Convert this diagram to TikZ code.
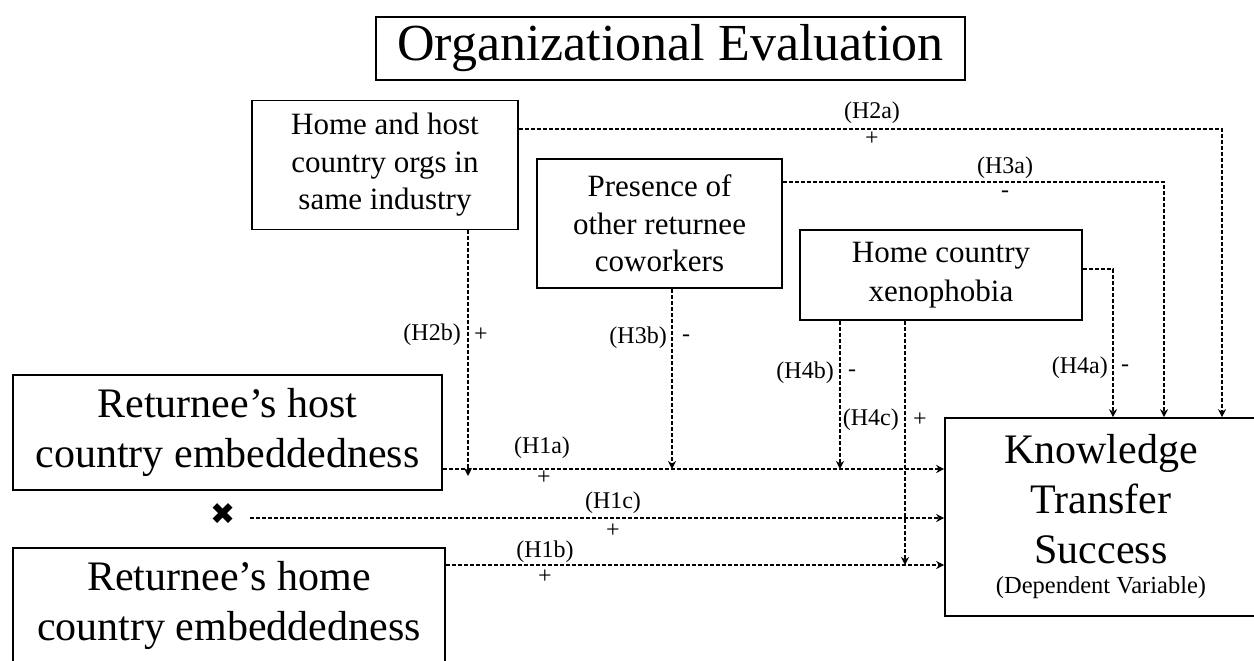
\documentclass[tikz,border=0pt]{standalone}
\usepackage{fontspec}
\setmainfont{Liberation Serif}
\newfontfamily\symfont{DejaVu Sans}
\usetikzlibrary{arrows.meta,calc}

\tikzset{
  box/.style={draw, line width=1.6pt, align=center, inner sep=0pt},
  dep/.style={dashed, dash pattern=on 4pt off 2pt, line width=1.2pt, -{Stealth[length=8pt,width=8pt,inset=2.5pt]}},
  lbl/.style={inner sep=0pt, font=\fontsize{24}{28}\selectfont},
}

\begin{document}
\begin{tikzpicture}[x=1pt, y=-1pt]
\clip (0,0) rectangle (1254,661);
% boxes
\node[box, minimum width=589pt, minimum height=63pt, font=\fontsize{52}{58}\selectfont] (orgeval) at (670.5,48.5) {Organizational Evaluation};
\node[box, minimum width=266pt, minimum height=129pt, font=\fontsize{31}{37.5}\selectfont] (homehost) at (385,165) {Home and host\\country orgs in\\same industry};
\node[box, minimum width=245pt, minimum height=129pt, font=\fontsize{31}{37.5}\selectfont] (presence) at (659.5,223.5) {Presence of\\other returnee\\coworkers};
\node[box, minimum width=282pt, minimum height=90pt, font=\fontsize{31}{38.5}\selectfont] (xeno) at (941,275) {Home country\\xenophobia};
\node[box, minimum width=429pt, minimum height=115pt, font=\fontsize{42}{50}\selectfont] (host) at (227.5,432.5) {Returnee's host\\country embeddedness};
\node[box, minimum width=432pt, minimum height=115pt, font=\fontsize{42}{50}\selectfont] (home) at (229,605.5) {Returnee's home\\country embeddedness};
\node[box, minimum width=312pt, minimum height=198pt, font=\fontsize{42}{50}\selectfont] (kts) at (1101,517) {Knowledge\\Transfer\\Success\\[-20pt]{\fontsize{24.5}{30}\selectfont (Dependent Variable)}};
\node[inner sep=0pt, font=\symfont\fontsize{30}{30}\selectfont] (cross) at (223,514) {✖};

% rows and columns of the connectors
\coordinate (rowA) at (0,469); \coordinate (rowC) at (0,518); \coordinate (rowB) at (0,565);
\coordinate (rowH2) at (0,129); \coordinate (rowH3) at (0,182); \coordinate (rowH4) at (0,269);
\coordinate (colH2b) at (468,0); \coordinate (colH3b) at (672,0);
\coordinate (colH4b) at (840,0); \coordinate (colH4c) at (905,0);
\coordinate (colH4a) at (1113,0); \coordinate (colH3a) at (1164,0); \coordinate (colH2a) at (1222,0);
\coordinate (h2btip) at (468,476);

% main effects
\draw[dep] (250,0 |- rowC) -- (kts.west |- rowC);
\draw[dep] (host.east |- rowA) -- (kts.west |- rowA);
\draw[dep] (home.east |- rowB) -- (kts.west |- rowB);
% direct effects of the evaluation factors
\draw[dep] (homehost.east |- rowH2) -| (kts.north -| colH2a);
\draw[dep] (presence.east |- rowH3) -| (kts.north -| colH3a);
\draw[dep] (xeno.east |- rowH4) -| (kts.north -| colH4a);
% moderating effects
\draw[dep] (homehost.south -| colH2b) -- (h2btip);
\draw[dep] (presence.south -| colH3b) -- (colH3b |- rowA);
\draw[dep] (xeno.south -| colH4b) -- (colH4b |- rowA);
\draw[dep] (xeno.south -| colH4c) -- (colH4c |- rowB);

% labels
\node[lbl] (h1a) at (542,448) {(H1a)}; \node[lbl] (h1as) at (544,478) {+};
\node[lbl] (h1c) at (613,503) {(H1c)}; \node[lbl] (h1cs) at (613,531) {+};
\node[lbl] (h1b) at (545,552) {(H1b)}; \node[lbl] (h1bs) at (545,577) {+};
\node[lbl] (h2a) at (872,113) {(H2a)}; \node[lbl] (h2as) at (872,139) {+};
\node[lbl] (h3a) at (1005,168) {(H3a)}; \node[lbl] (h3as) at (1005,194) {-};
\node[lbl, anchor=east] (h2b) at (461,335) {(H2b)}; \node[lbl] (h2bs) at (481,335) {+};
\node[lbl, anchor=east] (h3b) at (667,338) {(H3b)}; \node[lbl] (h3bs) at (686,338) {-};
\node[lbl, anchor=east] (h4b) at (834,373) {(H4b)}; \node[lbl] (h4bs) at (852,373) {-};
\node[lbl, anchor=east] (h4c) at (899,420) {(H4c)}; \node[lbl] (h4cs) at (920,420) {+};
\node[lbl, anchor=east] (h4a) at (1108,368) {(H4a)}; \node[lbl] (h4as) at (1125,368) {-};
\end{tikzpicture}
\end{document}
